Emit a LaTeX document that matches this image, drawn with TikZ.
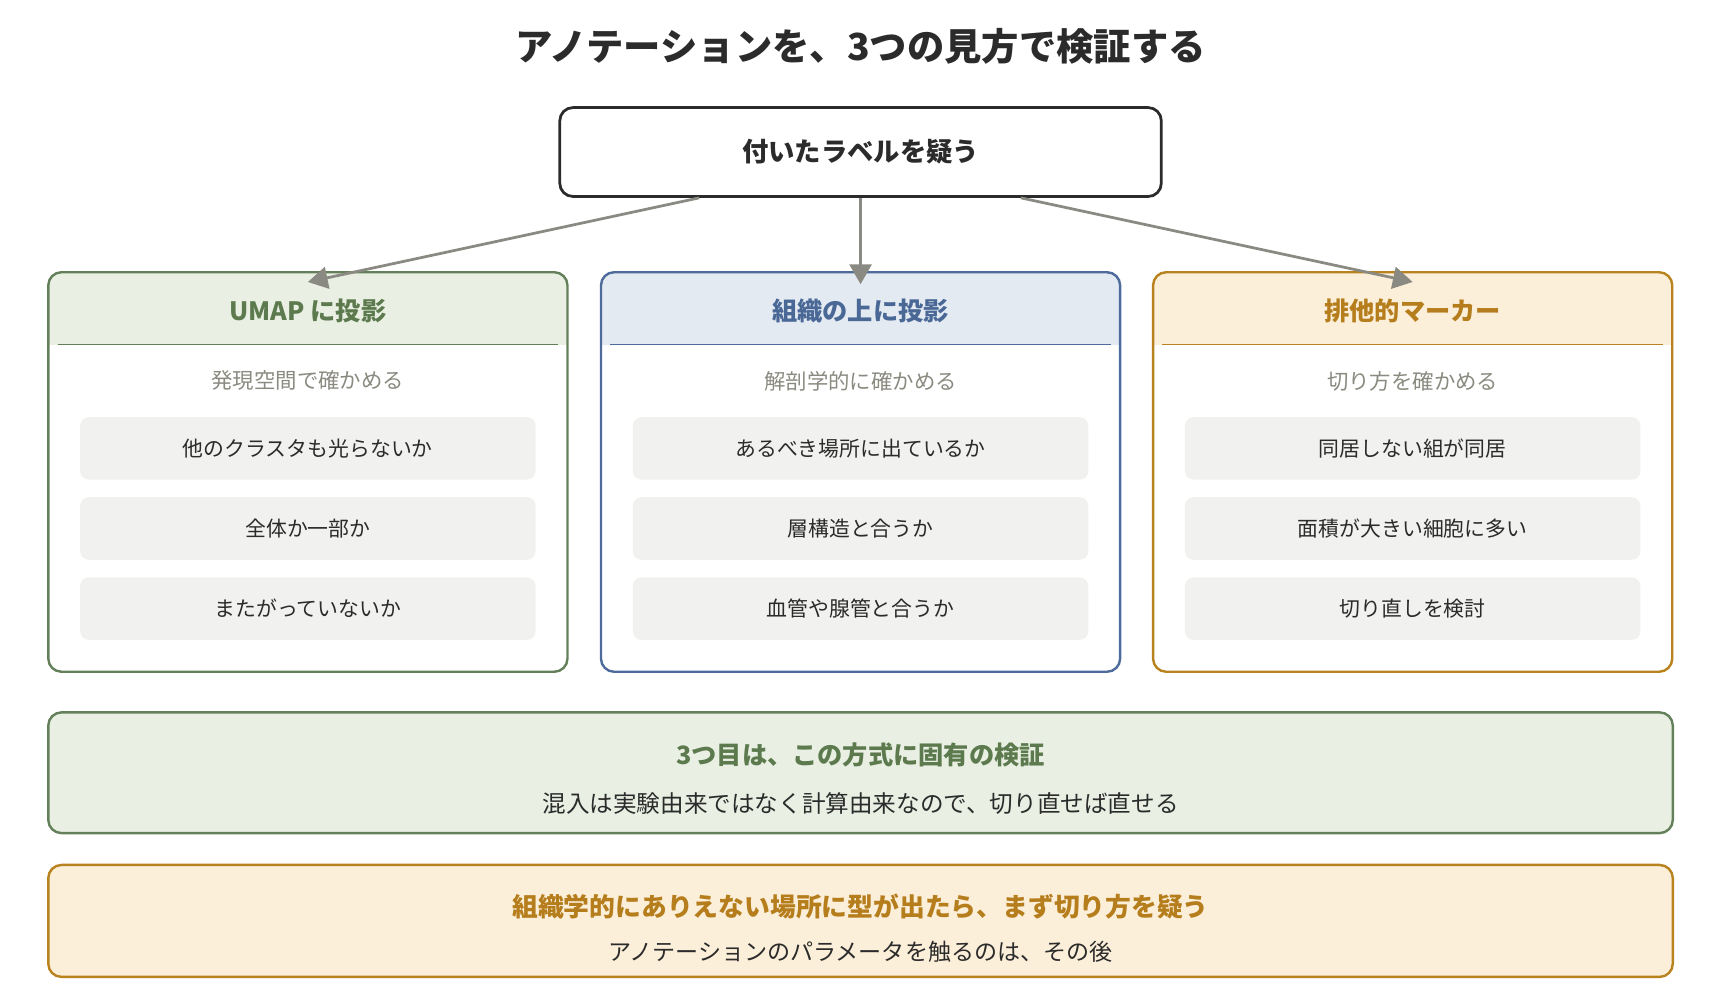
\documentclass[tikz,border=0pt]{standalone}
\usepackage{fontspec}
\setmainfont{Noto Sans CJK JP}
\usetikzlibrary{arrows.meta,positioning}

\definecolor{ink}{HTML}{2B2B2B}
\definecolor{arrowgray}{HTML}{8A8A82}
\definecolor{subgray}{HTML}{8A8A80}
\definecolor{itemfill}{HTML}{F1F1EF}
\definecolor{greenline}{HTML}{64805A}
\definecolor{greenfill}{HTML}{E9F0E3}
\definecolor{greentext}{HTML}{5C7A4E}
\definecolor{blueline}{HTML}{4D6C9C}
\definecolor{bluefill}{HTML}{E3EAF2}
\definecolor{bluetext}{HTML}{4A6896}
\definecolor{orangeline}{HTML}{B8821E}
\definecolor{orangefill}{HTML}{FCEFD9}
\definecolor{orangetext}{HTML}{B57D1C}

\tikzset{
  col/.style={draw=#1, line width=2.2pt, rounded corners=12pt,
    minimum width=473pt, minimum height=364pt, inner sep=0pt},
  item/.style={fill=itemfill, rounded corners=8pt, minimum width=415pt,
    minimum height=57pt, font=\fontsize{19}{22}\selectfont, text=ink},
  head/.style={font=\fontsize{23}{26}\selectfont\bfseries, text=#1},
  sub/.style={font=\fontsize{19.5}{22}\selectfont, text=subgray},
  band/.style={draw=#1, line width=2.2pt, rounded corners=12pt,
    minimum width=1480pt, inner sep=0pt},
  arr/.style={draw=arrowgray, line width=2.5pt,
    -{Triangle[length=18pt,width=20pt]}}
}

\begin{document}
\begin{tikzpicture}[x=1pt, y=-1pt]
  \useasboundingbox (0,0) rectangle (1567,911);

  % Title and top node
  \node[font=\fontsize{34}{38}\selectfont\bfseries, text=ink] (title) at (784,42)
    {アノテーションを、3つの見方で検証する};
  \node[draw=ink, line width=2.5pt, rounded corners=12pt, minimum width=548pt,
    minimum height=81pt, font=\fontsize{24}{28}\selectfont\bfseries, text=ink]
    (doubt) at (784,138.5) {付いたラベルを疑う};

  % Three columns
  \foreach \name/\cx/\c/\hd/\sb/\a/\b/\d in {
      umap/280.5/green/UMAP に投影/発現空間で確かめる/他のクラスタも光らないか/全体か一部か/またがっていないか,
      tissue/784/blue/組織の上に投影/解剖学的に確かめる/あるべき場所に出ているか/層構造と合うか/血管や腺管と合うか,
      marker/1287/orange/排他的マーカー/切り方を確かめる/同居しない組が同居/面積が大きい細胞に多い/切り直しを検討} {
    \begin{scope}
      \clip[rounded corners=12pt] (\cx-236.5,248) rectangle (\cx+236.5,612);
      \fill[\c fill] (\cx-236.5,248) rectangle (\cx+236.5,314);
    \end{scope}
    \draw[\c line, line width=1.5pt] (\cx-228,314) -- (\cx+228,314);
    \node[col=\c line] (\name) at (\cx,430) {};
    \node[head=\c text] (\name-head) at (\cx,283) {\hd};
    \node[sub] (\name-sub) at (\cx,347) {\sb};
    \node[item] (\name-1) at (\cx,408.5) {\a};
    \node[item] (\name-2) at (\cx,481.5) {\b};
    \node[item] (\name-3) at (\cx,554.5) {\d};
  }

  % Arrows
  \draw[arr] ([xshift=-147pt]doubt.south) -- ([yshift=-10pt]umap.north);
  \draw[arr] (doubt.south) -- ([yshift=-12pt]tissue.north);
  \draw[arr] ([xshift=146pt]doubt.south) -- ([yshift=-10pt]marker.north);

  % Bottom bands
  \node[band=greenline, fill=greenfill, minimum height=110pt] (third) at (784,704) {};
  \node[font=\fontsize{23}{26}\selectfont\bfseries, text=greentext] (third-head) at (784,688)
    {3つ目は、この方式に固有の検証};
  \node[font=\fontsize{21.5}{24}\selectfont, text=ink] (third-text) at (784,732)
    {混入は実験由来ではなく計算由来なので、切り直せば直せる};

  \node[band=orangeline, fill=orangefill, minimum height=102pt] (first) at (784,839) {};
  \node[font=\fontsize{23.5}{26}\selectfont\bfseries, text=orangetext] (first-head) at (784,826)
    {組織学的にありえない場所に型が出たら、まず切り方を疑う};
  \node[font=\fontsize{21}{24}\selectfont, text=ink] (first-text) at (784,867)
    {アノテーションのパラメータを触るのは、その後};
\end{tikzpicture}
\end{document}
